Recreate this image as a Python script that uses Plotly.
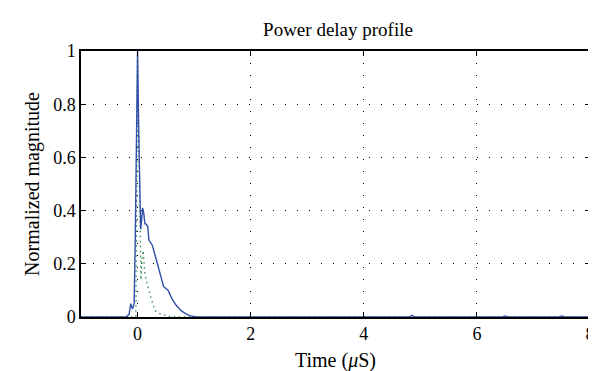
import plotly.graph_objects as go

# Measured power delay profile (blue, solid)
t_meas = [-1.0, -0.5, -0.2, -0.15, -0.12, -0.09, -0.06, -0.04, -0.02, 0.0, 0.02, 0.04, 0.055,
          0.07, 0.09, 0.11, 0.13, 0.15, 0.18, 0.2, 0.23, 0.26, 0.3, 0.34, 0.4, 0.46, 0.54,
          0.61, 0.68, 0.77, 0.86, 0.94, 1.05, 2.0, 3.0, 4.8, 4.85, 4.9, 6.45, 6.5, 6.55,
          7.45, 7.5, 7.55, 8.0]
v_meas = [0.0, 0.0, 0.0, 0.01, 0.05, 0.03, 0.05, 0.3, 0.7, 1.0, 0.7, 0.45, 0.33,
          0.36, 0.41, 0.39, 0.35, 0.35, 0.34, 0.29, 0.28, 0.27, 0.24, 0.21, 0.17, 0.115, 0.1,
          0.068, 0.045, 0.024, 0.011, 0.004, 0.0, 0.0, 0.0, 0.0, 0.006, 0.0, 0.0, 0.004, 0.0,
          0.0, 0.004, 0.0, 0.0]

# Model profile (green, dotted)
t_model = [-1.0, -0.03, 0.0, 0.02, 0.04, 0.06, 0.08, 0.1, 0.13, 0.18, 0.22, 0.31, 0.4,
           0.48, 0.6, 1.0, 8.0]
v_model = [0.0, 0.0, 0.98, 0.7, 0.3, 0.14, 0.22, 0.25, 0.16, 0.11, 0.083, 0.024, 0.012,
           0.007, 0.0, 0.0, 0.0]

x_ticks = [0, 2, 4, 6, 8]
y_ticks = [0, 0.2, 0.4, 0.6, 0.8, 1]
y_tick_text = ["0", "0.2", "0.4", "0.6", "0.8", "1"]

FONT = "Liberation Serif"

fig = go.Figure()
fig.add_trace(go.Scatter(x=t_model, y=v_model, mode="lines",
                         line=dict(color="#2a8c4a", width=1.3, dash="1.5px,3.5px"),
                         showlegend=False))
fig.add_trace(go.Scatter(x=t_meas, y=v_meas, mode="lines",
                         line=dict(color="#2f4fa8", width=1.4),
                         showlegend=False))

axis_common = dict(
    showline=True, linecolor="black", linewidth=1.5, mirror="ticks",
    ticks="inside", ticklen=5, tickcolor="black", tickwidth=1,
    showgrid=True, gridcolor="black", gridwidth=1, griddash="1px,11px",
    zeroline=False,
    tickfont=dict(family=FONT, size=18, color="black"),
)

fig.update_layout(
    width=596, height=371,
    margin=dict(l=73, r=9, t=43, b=62),
    paper_bgcolor="white", plot_bgcolor="white",
    title=dict(text="Power delay profile", x=(73 + 587) / 2 / 596, xanchor="center",
               y=1 - 21 / 371, yanchor="middle", yref="container",
               font=dict(family=FONT, size=19, color="black")),
    xaxis=dict(range=[-1, 8], tickvals=x_ticks,
               title=dict(text="Time (<i>μ</i>S)", standoff=10,
                          font=dict(family=FONT, size=20, color="black")),
               **axis_common),
    yaxis=dict(range=[0, 1], tickvals=y_ticks, ticktext=y_tick_text,
               title=dict(text="Normalized magnitude", standoff=8,
                          font=dict(family=FONT, size=20, color="black")),
               **axis_common),
)

fig.write_html("out.html")
